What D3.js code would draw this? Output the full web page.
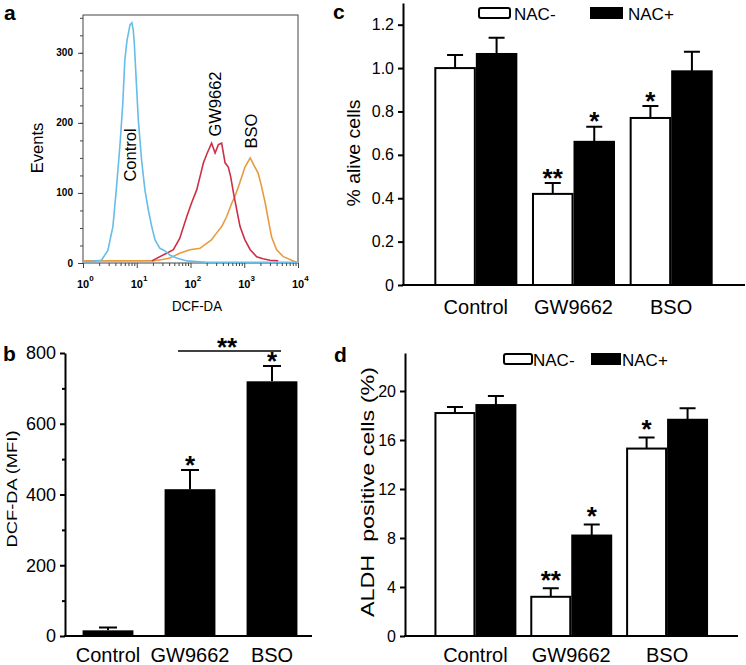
<!DOCTYPE html>
<html>
<head>
<meta charset="utf-8">
<script src="https://cdn.jsdelivr.net/npm/d3@7"></script>
<style>
  body { margin: 0; background: #fff; }
  svg { display: block; font-family: "Liberation Sans", Arial, sans-serif; }
  .axis path, .axis line { stroke: #000; }
  .thick path, .thick line { stroke-width: 2px; }
</style>
</head>
<body>
<div id="fig"></div>
<script>
// panel a - flow histograms, [DCF-DA, events]
var controlHist = [[1,1],[2.2,4],[2.9,18],[3.6,52],[4.2,108],[4.9,171],[5.5,228],[6.0,290],[6.6,318],[7.5,340],[8.1,343],
    [8.6,333],[9.0,314],[9.7,266],[10.7,204],[12.3,147],[14.2,104],[16.4,76],[19,52],[21.9,33],[27,21],[34,17],[42,11],
    [55,7],[85,3],[200,1],[1000,1],[10000,1]];
var gw9662Hist = [[19,3],[36,14],[48,19],[63,35],[85,66],[105,86],[130,104],[150,123],[174,143],[205,157],[247,171],
    [287,157],[330,169],[380,171],[440,143],[505,137],[560,123],[630,100],[725,76],[835,52],[1030,33],[1290,19],
    [1700,9],[2240,6],[3000,4],[4300,3]];
var bsoHist = [[1,3],[20,3],[30,5],[41,7],[63,14],[98,19],[150,21],[200,28],[245,33],[307,43],[380,52],[470,66],[590,86],
    [670,95],[780,109],[900,123],[1030,137],[1290,150],[1580,137],[1820,128],[2100,109],[2450,86],[2800,62],[3230,37],
    [4000,19],[5350,9],[8200,3],[10000,0]];
var histNames = ["Control", "GW9662", "BSO"];
var histColors = ["#66bde8", "#cc3046", "#e89b3e"];

// panel b - DCF-DA MFI
var categories = ["Control", "GW9662", "BSO"];
var mfiValues = [16, 415, 720];
var mfiErrors = [8, 54, 43];
var mfiStars = ["", "*", "*"];

// panel c - % alive cells
var aliveMinus = [1.0, 0.42, 0.77];
var aliveMinusErr = [0.06, 0.05, 0.055];
var alivePlus = [1.065, 0.66, 0.985];
var alivePlusErr = [0.075, 0.07, 0.09];
var aliveStarsMinus = ["", "**", "*"];
var aliveStarsPlus = ["", "*", ""];

// panel d - ALDH positive cells
var aldhMinus = [18.2, 3.2, 15.3];
var aldhMinusErr = [0.5, 0.7, 0.9];
var aldhPlus = [18.85, 8.2, 17.65];
var aldhPlusErr = [0.75, 0.9, 0.95];
var aldhStarsMinus = ["", "**", "*"];
var aldhStarsPlus = ["", "*", ""];

var groups = ["NAC-", "NAC+"];

var svg = d3.select('#fig').append('svg').attr('width', 746).attr('height', 665);

// panel letters
[["a", 4, 20], ["b", 3, 361], ["c", 333, 19], ["d", 334, 362]].forEach(function(p){
    svg.append('text').attr('x', p[1]).attr('y', p[2]).text(p[0])
        .style('font-size', '21px').style('font-weight', 'bold');
});

// star helper: asterisk centre sits ~0.57em above baseline
function star(g, x, yCentre, s, size){
    g.append('text').attr('x', x).attr('y', yCentre + size * 0.57)
        .attr('text-anchor', 'middle').style('font-size', size + 'px').style('font-weight', 'bold').text(s);
}

//////////////// panel a
var xA = d3.scaleLog().domain([1, 1e4]).range([83, 298]);
var yA = d3.scaleLinear().domain([0, 354]).range([263, 15]);
var gA = svg.append('g');

// frame
gA.append('rect').attr('x', 83).attr('y', 15).attr('width', 215).attr('height', 248)
    .style('fill', 'none').style('stroke', '#444').style('stroke-width', 1);

var minorX = [];
[1, 10, 100, 1000].forEach(function(dec){ for (var k = 2; k <= 9; k++) minorX.push(dec * k); });
gA.append('g').attr('class', 'axis').attr('transform', 'translate(0,263)')
    .call(d3.axisBottom(xA).tickValues(minorX).tickSize(3).tickSizeOuter(0).tickFormat(''))
    .select('.domain').remove();
gA.append('g').attr('class', 'axis').attr('transform', 'translate(0,263)')
    .call(d3.axisBottom(xA).tickValues([1, 10, 100, 1000, 10000]).tickSize(5).tickSizeOuter(0).tickFormat(''))
    .select('.domain').remove();
gA.append('g').attr('class', 'axis').attr('transform', 'translate(83,0)')
    .call(d3.axisLeft(yA).tickValues(d3.range(0, 351, 25)).tickSize(3).tickSizeOuter(0).tickFormat(''))
    .select('.domain').remove();
gA.append('g').attr('class', 'axis').attr('transform', 'translate(83,0)')
    .call(d3.axisLeft(yA).tickValues([0, 100, 200, 300]).tickSize(5).tickSizeOuter(0).tickFormat(''))
    .select('.domain').remove();
gA.selectAll('.axis line').style('stroke', '#444');

[0, 100, 200, 300].forEach(function(v){
    gA.append('text').attr('x', 73).attr('y', yA(v) + 3.5).attr('text-anchor', 'end')
        .style('font-size', '10px').style('font-weight', 'bold').text(v);
});
[0, 1, 2, 3, 4].forEach(function(e){
    var t = gA.append('text').attr('x', xA(Math.pow(10, e)) - 6).attr('y', 288)
        .style('font-size', '11px').style('font-weight', 'bold');
    t.append('tspan').text('10');
    t.append('tspan').attr('dy', -7).style('font-size', '8px').text(e);
});
gA.append('text').attr('x', 197).attr('y', 311).attr('text-anchor', 'middle')
    .attr('textLength', 50).attr('lengthAdjust', 'spacingAndGlyphs')
    .style('font-size', '15px').text('DCF-DA');
gA.append('text').attr('transform', 'translate(43,148) rotate(-90)').attr('text-anchor', 'middle')
    .style('font-size', '16.5px').text('Events');

var lineA = d3.line().x(function(d){ return xA(d[0]); }).y(function(d){ return yA(d[1]); }).curve(d3.curveLinear);
[bsoHist, gw9662Hist, controlHist].forEach(function(h, i){
    gA.append('path').datum(h).attr('d', lineA)
        .style('fill', 'none').style('stroke', histColors[2 - i]).style('stroke-width', 1.6);
});
// curve labels
[[136, 155], [221, 104], [257, 131]].forEach(function(p, i){
    gA.append('text').attr('transform', 'translate(' + p[0] + ',' + p[1] + ') rotate(-90)')
        .attr('text-anchor', 'middle').style('font-size', '16.5px').text(histNames[i]);
});

//////////////// panel b
var xB = d3.scaleBand().domain(categories).range([67, 313]).paddingInner(0.38).paddingOuter(0.19);
var yB = d3.scaleLinear().domain([0, 800]).range([636, 353]);
var gB = svg.append('g');

gB.append('g').attr('class', 'axis thick').attr('transform', 'translate(65,0)')
    .call(d3.axisLeft(yB).tickValues(d3.range(100, 800, 200)).tickSize(3).tickSizeOuter(0).tickFormat(''))
    .select('.domain').remove();
gB.append('g').attr('class', 'axis thick').attr('transform', 'translate(65,0)')
    .call(d3.axisLeft(yB).tickValues([0, 200, 400, 600, 800]).tickSize(5).tickSizeOuter(0).tickPadding(4))
    .selectAll('text').style('font-size', '18px').style('fill', '#000');
gB.append('line').attr('x1', 64).attr('x2', 312).attr('y1', 636).attr('y2', 636)
    .style('stroke', '#000').style('stroke-width', 2);

// error bars then bars
gB.selectAll('.errB').data(categories).enter().append('path').attr('class', 'errB')
    .attr('d', function(d, i){
        var cx = xB(d) + xB.bandwidth() / 2, top = yB(mfiValues[i] + mfiErrors[i]);
        return 'M' + cx + ',' + yB(mfiValues[i]) + 'V' + top + 'M' + (cx - 9) + ',' + top + 'H' + (cx + 9);
    })
    .style('fill', 'none').style('stroke', '#000').style('stroke-width', 2);
gB.selectAll('.barB').data(categories).enter().append('rect').attr('class', 'barB')
    .attr('x', function(d){ return xB(d); })
    .attr('y', function(d, i){ return yB(mfiValues[i]); })
    .attr('width', xB.bandwidth())
    .attr('height', function(d, i){ return 636 - yB(mfiValues[i]); })
    .style('fill', '#000');
categories.forEach(function(c, i){
    if (mfiStars[i]) star(gB, xB(c) + xB.bandwidth() / 2, yB(mfiValues[i] + mfiErrors[i]) - 11, mfiStars[i], 26);
    gB.append('text').attr('x', xB(c) + xB.bandwidth() / 2).attr('y', 662).attr('text-anchor', 'middle')
        .style('font-size', '20px').text(c);
});
// GW9662 vs BSO bracket
gB.append('line').attr('x1', 178).attr('x2', 281).attr('y1', 351).attr('y2', 351)
    .style('stroke', '#000').style('stroke-width', 1.5);
star(gB, 227, 341, '**', 26);
gB.append('text').attr('transform', 'translate(17,489) rotate(-90)').attr('text-anchor', 'middle')
    .attr('textLength', 117).attr('lengthAdjust', 'spacingAndGlyphs')
    .style('font-size', '15px').text('DCF-DA (MFI)');

//////////////// grouped bar panels c and d
function grouped(opt){
    var g = svg.append('g');
    var x0 = d3.scaleBand().domain(categories).range(opt.band).paddingInner(opt.pad).paddingOuter(opt.pad / 2);
    var x1 = d3.scaleBand().domain(groups).range([0, x0.bandwidth()]);
    var y = d3.scaleLinear().domain(opt.domain).range([opt.y0, opt.yTop]);
    var vals = [opt.minus, opt.plus], errs = [opt.minusErr, opt.plusErr], stars = [opt.starsMinus, opt.starsPlus];

    g.append('g').attr('class', 'axis thick').attr('transform', 'translate(' + opt.axisX + ',0)')
        .call(d3.axisLeft(y).tickValues(opt.ticks).tickSize(5).tickSizeOuter(0).tickPadding(4).tickFormat(opt.fmt))
        .selectAll('text').style('font-size', '16px').style('fill', '#000');
    g.append('line').attr('x1', opt.axisX - 1).attr('x2', opt.axisEnd).attr('y1', opt.y0).attr('y2', opt.y0)
        .style('stroke', '#000').style('stroke-width', 2);

    groups.forEach(function(gr, k){
        categories.forEach(function(c, i){
            var bx = x0(c) + x1(gr), cx = bx + x1.bandwidth() / 2;
            var top = y(vals[k][i] + errs[k][i]);
            g.append('path')
                .attr('d', 'M' + cx + ',' + y(vals[k][i]) + 'V' + top + 'M' + (cx - 8) + ',' + top + 'H' + (cx + 8))
                .style('fill', 'none').style('stroke', '#000').style('stroke-width', 2);
            g.append('rect').attr('x', bx + 1).attr('y', y(vals[k][i]))
                .attr('width', x1.bandwidth() - 2).attr('height', opt.y0 - y(vals[k][i]))
                .style('fill', k ? '#000' : '#fff').style('stroke', '#000').style('stroke-width', 2);
            if (stars[k][i]) star(g, cx, top - opt.starGap, stars[k][i], 26);
        });
    });
    categories.forEach(function(c){
        g.append('text').attr('x', x0(c) + x0.bandwidth() / 2).attr('y', opt.catY).attr('text-anchor', 'middle')
            .style('font-size', '20px').text(c);
    });
    // legend
    opt.legend.forEach(function(L, k){
        g.append('rect').attr('x', L[0]).attr('y', opt.legY).attr('width', L[1]).attr('height', 10)
            .attr('rx', k ? 0 : 2)
            .style('fill', k ? '#000' : '#fff').style('stroke', '#000').style('stroke-width', 2);
        g.append('text').attr('x', L[2]).attr('y', opt.legY + 11.5).style('font-size', '17px').text(groups[k]);
    });
    var lab = g.append('text').attr('transform', 'translate(' + opt.labX + ',' + opt.labY + ') rotate(-90)')
        .attr('text-anchor', 'middle').style('font-size', opt.labSize + 'px').attr('xml:space', 'preserve').text(opt.label);
    if (opt.labLen) lab.attr('textLength', opt.labLen).attr('lengthAdjust', 'spacingAndGlyphs');
}

grouped({
    band: [427, 720], pad: 0.15, domain: [0, 1.3], y0: 285, yTop: 3, axisX: 403, axisEnd: 745,
    ticks: [0, 0.2, 0.4, 0.6, 0.8, 1.0, 1.2], fmt: function(d){ return d === 0 ? '0' : d3.format('.1f')(d); },
    minus: aliveMinus, minusErr: aliveMinusErr, plus: alivePlus, plusErr: alivePlusErr,
    starsMinus: aliveStarsMinus, starsPlus: aliveStarsPlus, starGap: 11,
    catY: 314, legY: 8, legend: [[479, 31, 514], [591, 31, 628]],
    label: '% alive cells', labX: 360, labY: 153, labLen: 107, labSize: 19
});

grouped({
    band: [427.5, 715], pad: 0.145, domain: [0, 23.1], y0: 636, yTop: 353, axisX: 405, axisEnd: 738,
    ticks: [0, 4, 8, 12, 16, 20], fmt: d3.format('d'),
    minus: aldhMinus, minusErr: aldhMinusErr, plus: aldhPlus, plusErr: aldhPlusErr,
    starsMinus: aldhStarsMinus, starsPlus: aldhStarsPlus, starGap: 14,
    catY: 662, legY: 354, legend: [[504, 28, 533], [592, 28, 622]],
    label: 'ALDH  positive cells (%)', labX: 374, labY: 492, labLen: 250, labSize: 18
});
</script>
</body>
</html>
